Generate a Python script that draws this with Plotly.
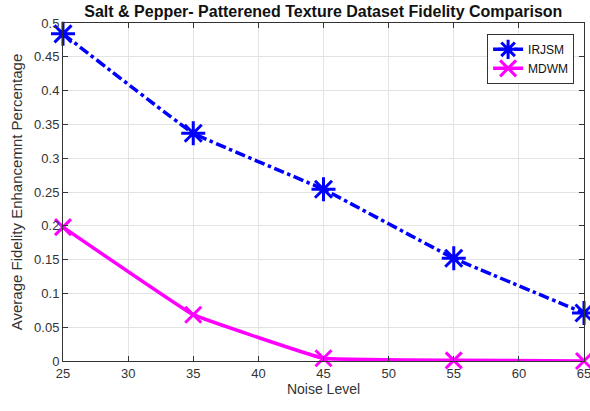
import plotly.graph_objects as go

# Noise levels and fidelity enhancement values per method
noise_level = [25, 35, 45, 55, 65]
irjsm = [0.484, 0.337, 0.254, 0.152, 0.071]
mdwm = [0.198, 0.0685, 0.004, 0.001, 0.0]

x_ticks = [25, 30, 35, 40, 45, 50, 55, 60, 65]
y_ticks = [0, 0.05, 0.1, 0.15, 0.2, 0.25, 0.3, 0.35, 0.4, 0.45, 0.5]
y_tick_text = ["0", "0.05", "0.1", "0.15", "0.2", "0.25", "0.3", "0.35", "0.4", "0.45", "0.5"]

FONT = "Liberation Sans, Arial, sans-serif"

fig = go.Figure()
fig.add_trace(go.Scatter(
    x=noise_level, y=irjsm, name="IRJSM", mode="lines+markers",
    line=dict(color="#0000ff", width=3.5, dash="dashdot", shape="spline", smoothing=0.2),
    marker=dict(symbol="asterisk-open", size=20, line=dict(color="#0000ff", width=3)),
    cliponaxis=False,
))
fig.add_trace(go.Scatter(
    x=noise_level, y=mdwm, name="MDWM", mode="lines+markers",
    line=dict(color="#ff00ff", width=3.5, shape="spline", smoothing=0.2),
    marker=dict(symbol="x-thin-open", size=16, line=dict(color="#ff00ff", width=3)),
    cliponaxis=False,
))

axis_common = dict(
    showgrid=True, gridcolor="#e3e3e3", gridwidth=1,
    showline=True, linecolor="#333333", linewidth=1, mirror="ticks",
    ticks="inside", ticklen=5, tickcolor="#333333",
    tickfont=dict(family=FONT, size=13, color="#333333"),
    ticklabeloverflow="allow",
    automargin=False,
    zeroline=False,
)

fig.update_layout(
    width=590, height=411,
    margin=dict(l=63, r=6, t=23, b=50),
    paper_bgcolor="white", plot_bgcolor="white",
    title=dict(
        text="<b>Salt & Pepper- Patterened Texture Dataset Fidelity Comparison</b>",
        x=0.548, xanchor="center", y=0.973, yanchor="middle",
        font=dict(family=FONT, size=16, color="#111111"),
    ),
    xaxis=dict(
        range=[25, 65], tickvals=x_ticks,
        title=dict(text="Noise Level", standoff=4,
                   font=dict(family=FONT, size=14, color="#333333")),
        **axis_common,
    ),
    yaxis=dict(
        range=[0, 0.5], tickvals=y_ticks, ticktext=y_tick_text,
        title=dict(text="Average Fidelity Enhancemnt Percentage", standoff=7,
                   font=dict(family=FONT, size=15, color="#333333")),
        **axis_common,
    ),
    legend=dict(
        x=0.981, y=0.968, xanchor="right", yanchor="top",
        bgcolor="white", bordercolor="#333333", borderwidth=1,
        font=dict(family=FONT, size=12, color="#111111"),
        itemwidth=30, tracegroupgap=0,
    ),
    showlegend=True,
)

fig.write_html("out.html")
